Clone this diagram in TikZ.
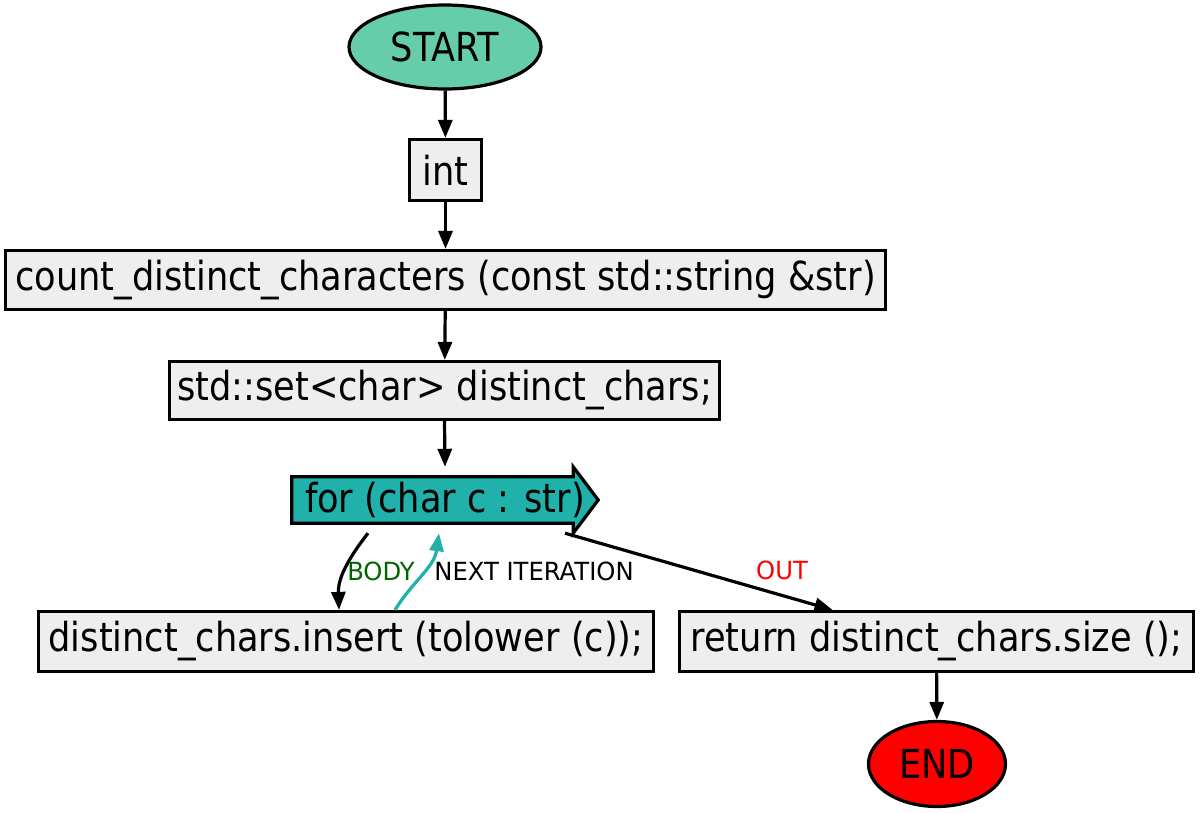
\documentclass[tikz,border=0pt]{standalone}
\usepackage{fontspec}
\setmainfont[FakeStretch=0.88]{DejaVu Sans}
\newfontfamily\lblfont[FakeStretch=0.97]{DejaVu Sans}
\usetikzlibrary{arrows.meta,shapes.geometric}
\definecolor{startfill}{HTML}{66CDAA}
\definecolor{endfill}{HTML}{FF0000}
\definecolor{loopfill}{HTML}{20B2AA}
\definecolor{boxfill}{HTML}{EEEEEE}
\definecolor{bodygreen}{HTML}{006400}
\tikzset{
  stmt/.style={draw=black, line width=3.2pt, fill=boxfill, rectangle, inner sep=0pt,
    minimum height=59pt, font=\fontsize{40}{48}\selectfont},
  terminal/.style={draw=black, line width=3.2pt, ellipse, inner sep=0pt,
    font=\fontsize{40}{48}\selectfont},
  flow/.style={line width=3.2pt, -{Triangle[length=18pt,width=14pt]}},
  lbl/.style={inner sep=0pt, font=\lblfont\fontsize{25}{30}\selectfont},
}
\begin{document}
\begin{tikzpicture}[x=1pt, y=-1pt]
  \useasboundingbox (0,0) rectangle (1200,813);
  \fill[white] (0,0) rectangle (1200,813);

  % nodes
  \node[terminal, fill=startfill, minimum width=192pt, minimum height=84pt] (start) at (445,47) {START};
  \node[stmt, minimum width=72pt, minimum height=61pt] (int) at (445.5,170) {int};
  \node[stmt, minimum width=880pt] (func) at (445.5,280) {count\_distinct\_characters (const std::string \&str)};
  \node[stmt, minimum width=550pt, minimum height=58pt] (decl) at (444.5,390.5) {std::set<char> distinct\_chars;};
  \node[inner sep=0pt, minimum width=306pt, minimum height=66pt,
        font=\fontsize{40}{48}\selectfont] (loop) at (445,500) {};
  \node[stmt, minimum width=615pt, minimum height=60pt] (ins) at (346,641.5) {distinct\_chars.insert (tolower (c));};
  \node[stmt, minimum width=514pt, minimum height=60pt] (ret) at (936.5,641.5) {return distinct\_chars.size ();};
  \node[terminal, fill=endfill, minimum width=137pt, minimum height=85pt] (end) at (937,764) {END};

  % loop header drawn as a right-pointing arrow box
  \draw[line width=3.2pt, fill=loopfill, line join=miter]
    ([yshift=-10pt]loop.north west) -- ([xshift=-25pt,yshift=-10pt]loop.north east)
    -- ([xshift=-25pt]loop.north east) -- (loop.east)
    -- ([xshift=-25pt]loop.south east) -- ([xshift=-25pt,yshift=10pt]loop.south east)
    -- ([yshift=10pt]loop.south west) -- cycle;
  \node[font=\fontsize{40}{48}\selectfont, inner sep=0pt] (looptext) at (loop.center) {for (char c : str)};

  % straight flow
  \draw[flow] (start) -- (int);
  \draw[flow] (int) -- (func);
  \draw[flow] (func) -- (decl);
  \draw[flow] (decl.south) -- (loop.north);
  \draw[flow] (ret) -- (end);

  % loop edges
  \draw[flow] ([xshift=-77pt]loop.south) to[out=232, in=92] ([xshift=-7pt]ins.north);
  \draw[flow, draw=loopfill, -{Triangle[length=18pt,width=14pt,fill=loopfill]}]
    ([xshift=49pt]ins.north) to[out=58, in=262] ([xshift=-6pt]loop.south);
  \draw[flow] ([xshift=120pt]loop.south) -- ([xshift=-104pt]ret.north);

  % edge labels
  \node[lbl, text=bodygreen] (lbody) at (381,571) {BODY};
  \node[lbl] (lnext) at (534,571) {NEXT ITERATION};
  \node[lbl, text=red] (lout) at (782,570) {OUT};
\end{tikzpicture}
\end{document}
